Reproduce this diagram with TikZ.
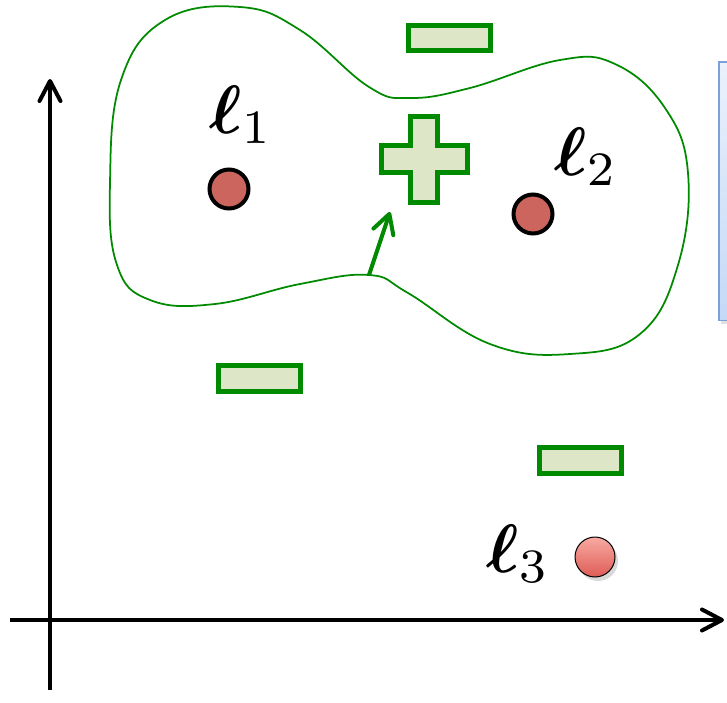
\documentclass[tikz,border=0pt]{standalone}
\usepackage{amsmath}
\usepackage{tikz}
\usetikzlibrary{arrows.meta, shadows, positioning}
\definecolor{signgreen}{RGB}{0,138,0}
\definecolor{signfill}{RGB}{222,230,200}
\definecolor{landred}{RGB}{205,101,95}
\definecolor{landpinktop}{RGB}{248,170,162}
\definecolor{landpinkbot}{RGB}{222,92,86}
\definecolor{calloutblue}{RGB}{122,162,216}
\definecolor{callouttop}{RGB}{234,241,252}
\definecolor{calloutbot}{RGB}{196,217,246}
\newcommand{\landname}[1]{\scalebox{3.9}{$\boldsymbol{\ell}_{#1}$}}
\tikzset{
  axis/.style={line width=0.08cm, -{Straight Barb[length=0.4cm, width=0.42cm, round]}},
  signbox/.style={draw=signgreen, fill=signfill, line width=0.1cm},
  minusbox/.style={signbox, rectangle, minimum width=1.64cm, minimum height=0.52cm, inner sep=0pt},
  landmark/.style={circle, draw=black, fill=landred, line width=0.08cm, minimum size=0.78cm, inner sep=0pt},
  farmark/.style={circle, draw=black, line width=0.02cm, minimum size=0.8cm, inner sep=0pt,
    top color=landpinktop, bottom color=landpinkbot,
    drop shadow={opacity=0.3, shadow xshift=0.06cm, shadow yshift=-0.08cm}},
  landlabel/.style={anchor=base, inner sep=0pt, font=\normalsize},
  region/.style={draw=signgreen, fill=white, line width=0.035cm},
  pusharrow/.style={signgreen, line width=0.08cm, -{Straight Barb[length=0.38cm, width=0.42cm, round]}},
  callout/.style={rectangle, draw=calloutblue, line width=0.03cm, top color=callouttop, bottom color=calloutbot,
    drop shadow={opacity=0.25, shadow xshift=0.05cm, shadow yshift=-0.06cm}}
}

\begin{document}
\begin{tikzpicture}[x=0.02cm, y=-0.02cm]
  \useasboundingbox (0,0) rectangle (727,703);

  % Axes
  \coordinate (ybot) at (50,690);
  \coordinate (ytop) at (50,79);
  \coordinate (xleft) at (10,620);
  \coordinate (xright) at (724,620);
  \draw[axis] (ybot) -- (ytop);
  \draw[axis] (xleft) -- (xright);

  % Region around l1 and l2
  \draw[region] plot[smooth cycle, tension=0.7] coordinates {
    (110,183) (121,80) (165,20) (240,7) (300,30) (369,87) (410,98)
    (470,88) (560,60) (615,64) (665,108) (688,173) (678,265) (640,334)
    (570,354) (490,344) (408,293) (369,275) (300,284) (215,304)
    (150,300) (117,265)};

  % Callout box (cut off at the right edge)
  \node[callout, anchor=north west, minimum width=1.5cm, minimum height=5.18cm] (info) at (718,61) {};

  % Minus signs
  \node[minusbox] (minustop) at (449.5,38) {};
  \node[minusbox] (minusleft) at (259.5,378.5) {};
  \node[minusbox] (minusright) at (580.5,460) {};

  % Plus sign
  \coordinate (plus) at (424,159);
  \draw[signbox, shift={(plus)}]
    (-13.5,-43) -- (13.5,-43) -- (13.5,-13.5) -- (43,-13.5) -- (43,13.5) -- (13.5,13.5)
    -- (13.5,43) -- (-13.5,43) -- (-13.5,13.5) -- (-43,13.5) -- (-43,-13.5) -- (-13.5,-13.5) -- cycle;

  % Push of the region towards the plus
  \coordinate (neck) at (369,275);
  \coordinate (pushtip) at (390,212);
  \draw[pusharrow] (neck) -- (pushtip);

  % Landmarks
  \node[landmark] (l1) at (229,189) {};
  \node[landmark] (l2) at (533,214) {};
  \node[farmark] (l3) at (595,557) {};

  \node[landlabel] (l1lab) at (241,133) {\landname{1}};
  \node[landlabel] (l2lab) at (586,175) {\landname{2}};
  \node[landlabel] (l3lab) at (518,572) {\landname{3}};

\end{tikzpicture}
\end{document}
